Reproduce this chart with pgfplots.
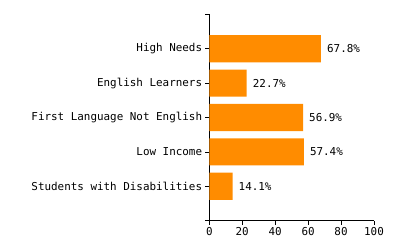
\documentclass[border=0pt]{standalone}
\usepackage{pgfplots}
\pgfplotsset{compat=1.18}
\usepackage{fontspec}
\setmonofont{DejaVu Sans Mono}
\definecolor{barorange}{HTML}{FF8C00}
\begin{document}
\begin{tikzpicture}
\useasboundingbox (-209.3bp,-29.3bp) rectangle (190.7bp,220.7bp);
\begin{axis}[
  at={(0,0)}, anchor=south west,
  scale only axis,
  width=164.7bp, height=206.4bp,
  xbar, bar width=0.79,
  xmin=0, xmax=100,
  ymin=-1, ymax=5,
  axis x line=bottom, axis y line=left,
  axis line style={-, black, line width=0.8bp},
  xtick={0,20,40,60,80,100},
  ytick={0,1,2,3,4},
  extra y ticks={-1,5}, extra y tick labels={},
  yticklabels={Students with Disabilities,Low Income,First Language Not English,English Learners,High Needs},
  tick align=outside,
  major tick length=4bp,
  tick style={black, line width=0.8bp},
  /pgf/number format/assume math mode=true,
  ticklabel style={font=\ttfamily\fontsize{10.9bp}{13bp}\selectfont, text=black},
  yticklabel style={inner sep=0pt, xshift=-3bp},
  xticklabel style={inner sep=0pt, yshift=-3bp},
  nodes near coords={\pgfmathprintnumber[fixed,fixed zerofill,precision=1]{\pgfplotspointmeta}\%},
  nodes near coords style={font=\ttfamily\fontsize{10.9bp}{13bp}\selectfont, text=black, anchor=west, inner sep=0pt, xshift=6bp},
  clip=false,
]
\addplot[fill=barorange, draw=none] coordinates {
  (14.1,0) (57.4,1) (56.9,2) (22.7,3) (67.8,4)
};
\end{axis}
\end{tikzpicture}
\end{document}
